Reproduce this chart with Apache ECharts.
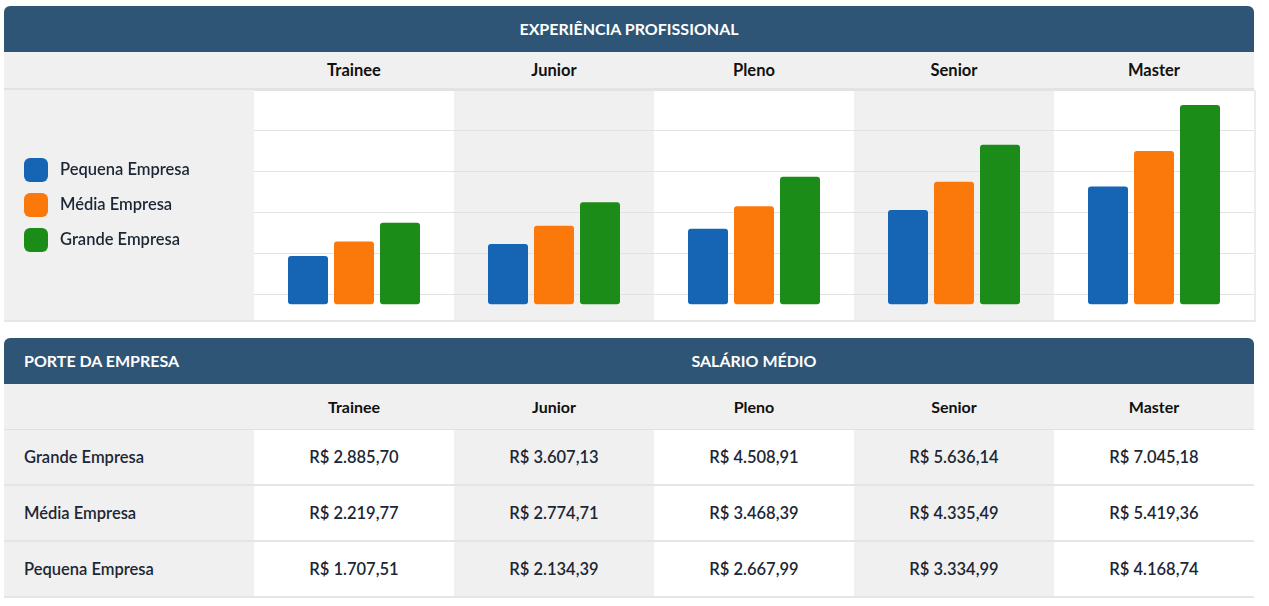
<!DOCTYPE html>
<html lang="pt-BR">
<head>
<meta charset="UTF-8">
<title>Salário médio por experiência</title>
<style>
    body { margin: 0; background: #fff; font-family: Lato, "Noto Sans", sans-serif; color: #1c2735; }
    .panel { position: absolute; left: 4px; width: 1250px; }
    .head { height: 46px; line-height: 46px; background: #2e5575; color: #fff; font-weight: 700;
            font-size: 16px; border-radius: 6px 6px 0 0; position: relative; }
    .row { display: flex; }
    .row > div { box-sizing: border-box; }
    .lab { width: 250px; }
    .col { width: 200px; text-align: center; }
    .cols { height: 36px; line-height: 36px; background: #f0f0f0; border-bottom: 2px solid #e3e3e3;
            font-weight: 700; font-size: 16.5px; color: #111; }
    #wrap { width: 1250px; height: 230px; overflow: hidden; background: #f0f0f0;
            border-bottom: 2px solid #e6e6e6; border-right: 2px solid #ececec; }
    #chart { width: 1250px; height: 245px; }
    .cols2 { height: 46px; line-height: 46px; background: #f0f0f0; border-bottom: 1px solid #dde1e8;
             font-weight: 700; font-size: 16px; color: #111; box-sizing: border-box; }
    .drow { height: 56px; line-height: 54px; font-size: 16.5px; border-bottom: 2px solid #e5e5e5;
            box-sizing: border-box; }
    .drow .lab { background: #f0f0f0; padding-left: 20px; font-weight: 600; }
    .drow .col { font-weight: 600; }
    .drow .odd { background: #f0f0f0; }
</style>
</head>
<body>
<div class="panel" style="top:6px">
    <div class="head" style="text-align:center">EXPERIÊNCIA PROFISSIONAL</div>
    <div class="row cols" id="cols1"><div class="lab"></div></div>
    <div id="wrap"><div id="chart"></div></div>
</div>
<div class="panel" style="top:338px">
    <div class="head">
        <span style="position:absolute;left:20px">PORTE DA EMPRESA</span>
        <span style="position:absolute;left:250px;width:1000px;text-align:center">SALÁRIO MÉDIO</span>
    </div>
    <div class="row cols2" id="cols2"><div class="lab"></div></div>
    <div id="rows"></div>
</div>

<script src="https://cdn.jsdelivr.net/npm/echarts@6/dist/echarts.min.js"></script>
<script type="text/javascript">

    var categories = ['Trainee', 'Junior', 'Pleno', 'Senior', 'Master'];
    var seriesNames = ['Pequena Empresa', 'Média Empresa', 'Grande Empresa'];
    var pequena = [1707.51, 2134.39, 2667.99, 3334.99, 4168.74];
    var media = [2219.77, 2774.71, 3468.39, 4335.49, 5419.36];
    var grande = [2885.70, 3607.13, 4508.91, 5636.14, 7045.18];

    var colors = ['#1565b4', '#fb790b', '#1b8c17'];

    // valor em reais no formato brasileiro
    function brl(v) {
        var parts = v.toFixed(2).split('.');
        var inteiro = parts[0].replace(/\B(?=(\d{3})+(?!\d))/g, '.');
        return 'R$ ' + inteiro + ',' + parts[1];
    }

    // cabeçalhos das colunas
    ['cols1', 'cols2'].forEach(function (id) {
        var el = document.getElementById(id);
        categories.forEach(function (c) {
            var d = document.createElement('div');
            d.className = 'col';
            d.textContent = c;
            el.appendChild(d);
        });
    });

    // tabela (grande, média, pequena)
    var tabela = [
        {name: 'Grande Empresa', values: grande},
        {name: 'Média Empresa', values: media},
        {name: 'Pequena Empresa', values: pequena}
    ];
    var rowsEl = document.getElementById('rows');
    tabela.forEach(function (r) {
        var row = document.createElement('div');
        row.className = 'row drow';
        var lab = document.createElement('div');
        lab.className = 'lab';
        lab.textContent = r.name;
        row.appendChild(lab);
        r.values.forEach(function (v, i) {
            var d = document.createElement('div');
            d.className = 'col' + (i % 2 ? ' odd' : '');
            d.textContent = brl(v);
            row.appendChild(d);
        });
        rowsEl.appendChild(row);
    });

    var myChart = echarts.init(document.getElementById('chart'));
    var dados = [pequena, media, grande];
    var series = [];
    seriesNames.forEach(function (name, i) {
        series.push({
            name: name,
            type: 'bar',
            data: dados[i],
            barWidth: 40,
            barGap: '15%',
            yAxisIndex: 0,
            itemStyle: {color: colors[i], borderRadius: 3}
        });
    });

    // o canvas tem 245px, os 15px de baixo ficam escondidos pelo #wrap
    var option = {
        animation: false,
        backgroundColor: 'transparent',
        textStyle: {fontFamily: 'Lato, "Noto Sans", sans-serif'},
        legend: {
            orient: 'vertical',
            left: 20,
            top: 68,
            padding: 0,
            itemWidth: 24,
            itemHeight: 24,
            itemGap: 11,
            icon: 'roundRect',
            data: seriesNames,
            selectedMode: false,
            textStyle: {fontSize: 16.5, fontWeight: 600, color: '#1c2735', padding: [0, 0, 0, 7]}
        },
        grid: {left: 250, right: 0, top: 0, bottom: 0, containLabel: false},
        xAxis: {
            type: 'category',
            data: categories,
            axisLine: {show: false},
            axisTick: {show: false},
            axisLabel: {show: false},
            splitArea: {show: true, areaStyle: {color: ['#ffffff', '#f0f0f0']}}
        },
        yAxis: [
            {
                type: 'value',
                min: -1085,
                max: 7576,
                show: false,
                splitLine: {show: false}
            },
            {
                // linhas de grade da área
                type: 'value',
                position: 'right',
                min: -41,
                max: 204,
                interval: 41,
                z: 1,
                axisLine: {show: false},
                axisTick: {show: false},
                axisLabel: {show: false},
                splitLine: {show: true, lineStyle: {color: '#e2e2e2', width: 1}}
            }
        ],
        series: series
    };
    myChart.setOption(option);

</script>
</body>
</html>
